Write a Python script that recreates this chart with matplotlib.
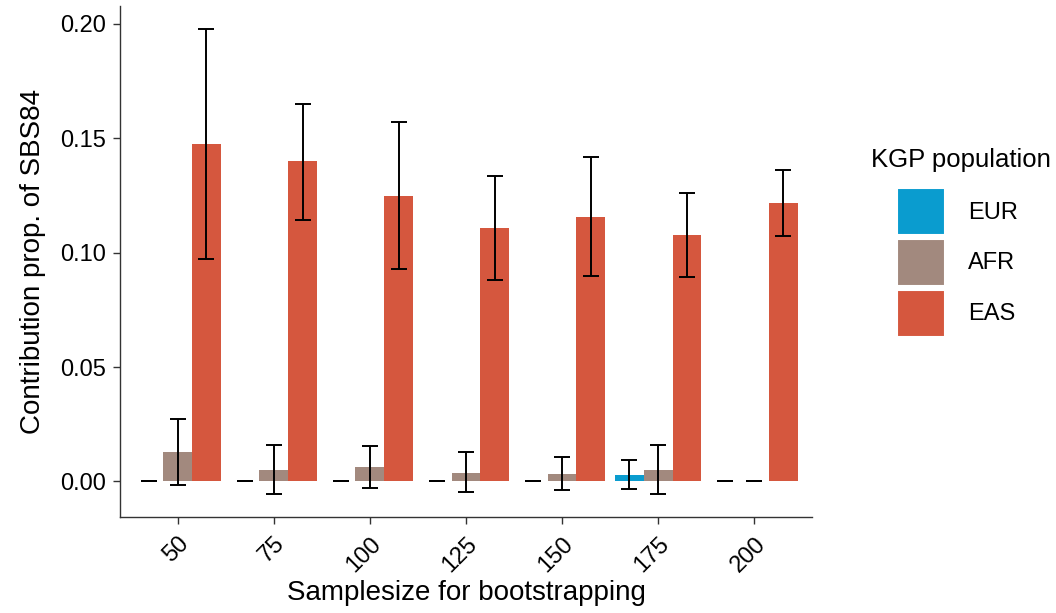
import numpy as np
import matplotlib
matplotlib.use('Agg')
import matplotlib.pyplot as plt
from matplotlib.patches import Patch

plt.rcParams['font.family'] = ['Liberation Sans', 'DejaVu Sans']

# bootstrap sample sizes
sizes = ['50', '75', '100', '125', '150', '175', '200']

# mean contribution and CI per population
eur_mean = [0, 0, 0, 0, 0, 0.0028, 0]
eur_low = [0, 0, 0, 0, 0, -0.0033, 0]
eur_high = [0, 0, 0, 0, 0, 0.0095, 0]

afr_mean = [0.0128, 0.0050, 0.0063, 0.0039, 0.0034, 0.0050, 0]
afr_low = [-0.0016, -0.0055, -0.0029, -0.0045, -0.0038, -0.0055, 0]
afr_high = [0.0274, 0.0160, 0.0157, 0.0130, 0.0108, 0.0159, 0]

eas_mean = [0.1474, 0.1399, 0.1250, 0.1107, 0.1157, 0.1077, 0.1217]
eas_low = [0.0972, 0.1145, 0.0928, 0.0882, 0.0899, 0.0893, 0.1074]
eas_high = [0.1976, 0.1652, 0.1573, 0.1335, 0.1418, 0.1263, 0.1362]

pops = ['EUR', 'AFR', 'EAS']
colors = {'EUR': '#0A9CCF', 'AFR': '#A2897E', 'EAS': '#D5573E'}
data = {
    'EUR': (eur_mean, eur_low, eur_high),
    'AFR': (afr_mean, afr_low, afr_high),
    'EAS': (eas_mean, eas_low, eas_high),
}

fig = plt.figure(figsize=(10.56, 6.13), dpi=100)
ax = fig.add_axes([0.1136, 0.156, 0.6553, 0.834])

x = np.arange(len(sizes))
width = 0.3
for i, p in enumerate(pops):
    m, lo, hi = [np.array(v) for v in data[p]]
    xp = x + (i - 1) * width
    ax.bar(xp, m, width=width, color=colors[p], zorder=2)
    ax.errorbar(xp, m, yerr=[m - lo, hi - m], fmt='none', ecolor='black',
                elinewidth=1.4, capsize=5.5, capthick=1.4, zorder=3)

ax.set_xlim(-0.6, len(sizes) - 0.4)
ax.set_ylim(-0.0157, 0.2078)
ax.set_xticks(x)
ax.set_xticklabels(sizes, rotation=45, ha='right', rotation_mode='anchor')
ax.set_yticks([0, 0.05, 0.10, 0.15, 0.20])
ax.set_yticklabels(['0.00', '0.05', '0.10', '0.15', '0.20'])
ax.tick_params(labelsize=17, length=5, width=1, color='#333333', labelcolor='black')
ax.tick_params(axis='y', pad=5)
ax.tick_params(axis='x', pad=6)

for s in ['top', 'right']:
    ax.spines[s].set_visible(False)
for s in ['left', 'bottom']:
    ax.spines[s].set_color('#333333')
    ax.spines[s].set_linewidth(1)

ax.set_xlabel('Samplesize for bootstrapping', fontsize=20, labelpad=3)
ax.set_ylabel('Contribution prop. of SBS84', fontsize=20, labelpad=10)

# legend keys, title placed separately for more room above the keys
handles = [Patch(facecolor=colors[p], edgecolor='white', linewidth=1.5, label=p) for p in pops]
leg = fig.legend(handles=handles, loc='upper left',
                 bbox_to_anchor=(0.8495, 0.6933), frameon=False, fontsize=17,
                 handlelength=2.05, handleheight=2.7, borderpad=0,
                 labelspacing=0.15, handletextpad=0.95, borderaxespad=0)
fig.text(0.910, 0.739, 'KGP population', fontsize=18.5, ha='center', va='center')

fig.savefig('out.png', dpi=100)
